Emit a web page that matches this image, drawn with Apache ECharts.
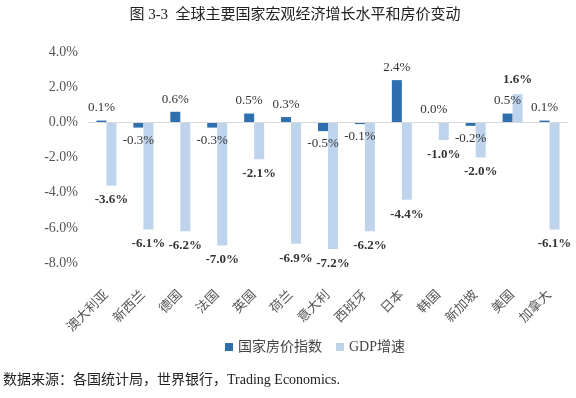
<!DOCTYPE html>
<html><head><meta charset="utf-8">
<script src="https://cdn.jsdelivr.net/npm/echarts@6/dist/echarts.min.js"></script>
<style>html,body{margin:0;padding:0;background:#fff}#c{width:576px;height:398px}</style>
</head><body><div id="c"></div>
<script>
const categories = ['澳大利亚','新西兰','德国','法国','英国','荷兰','意大利','西班牙','日本','韩国','新加坡','美国','加拿大'];
const housePrice = [0.1, -0.3, 0.6, -0.3, 0.5, 0.3, -0.5, -0.1, 2.4, 0.0, -0.2, 0.5, 0.1];
const gdpGrowth = [-3.6, -6.1, -6.2, -7.0, -2.1, -6.9, -7.2, -6.2, -4.4, -1.0, -2.0, 1.6, -6.1];
const seriesNames = ['国家房价指数', 'GDP增速'];
const titleText = '图 3-3  全球主要国家宏观经济增长水平和房价变动';
const sourceText = '数据来源：各国统计局，世界银行，Trading Economics.';

const FONT = '"Liberation Serif", "Noto Sans CJK SC", serif';
const chart = echarts.init(document.getElementById('c'), null, {renderer: 'canvas'});
function labelFor(bold, dist) {
  return {
    show: true,
    position: 'top',
    distance: dist,
    fontFamily: FONT,
    fontSize: 13,
    fontWeight: bold ? 'bold' : 'normal',
    color: '#333',
    formatter: p => p.value.toFixed(1) + '%'
  };
}
function mkData(arr) {
  return arr.map(v => ({
    value: v,
    label: { position: v < 0 ? 'bottom' : 'top' }
  }));
}
chart.setOption({
  animation: false,
  textStyle: { fontFamily: FONT },
  title: {
    text: titleText,
    left: 290, top: 3, textAlign: 'center',
    textStyle: { fontFamily: FONT, fontSize: 15, fontWeight: 'normal', color: '#222' }
  },
  graphic: [{
    type: 'text', left: 3, top: 373,
    style: { text: sourceText, font: '14px ' + FONT, fill: '#222' }
  }],
  legend: {
    data: seriesNames,
    left: 220, top: 335,
    itemWidth: 8, itemHeight: 8, itemGap: 14,
    icon: 'rect',
    textStyle: { fontFamily: FONT, fontSize: 14, color: '#444' }
  },
  grid: { left: 88, right: 8, top: 52, bottom: 135, containLabel: false, outerBoundsMode: 'none' },
  xAxis: {
    type: 'category',
    data: categories,
    position: 'bottom',
    axisLine: { show: false, onZero: false },
    axisTick: { show: false },
    axisLabel: {
      interval: 0, rotate: 45, fontFamily: FONT, fontSize: 13, color: '#555', margin: 30
    }
  },
  yAxis: {
    type: 'value', min: -8, max: 4, interval: 2,
    splitLine: { show: false },
    axisLine: { show: false },
    axisTick: { show: false },
    axisLabel: { fontFamily: FONT, fontSize: 14, color: '#555', margin: 10,
      formatter: v => v.toFixed(1) + '%' }
  },
  series: [
    { name: seriesNames[0], type: 'bar', barWidth: 10, barGap: '0%',
      itemStyle: { color: '#2E6FAF' },
      label: labelFor(false, 6), data: mkData(housePrice),
      markLine: { silent: true, symbol: 'none', label: { show: false },
        lineStyle: { color: '#d9d9d9', type: 'solid', width: 1 },
        data: [{ yAxis: 0 }] } },
    { name: seriesNames[1], type: 'bar', barWidth: 10, barGap: '0%',
      itemStyle: { color: '#BDD4EC' },
      label: labelFor(true, 8), data: mkData(gdpGrowth) }
  ]
});
</script></body></html>
